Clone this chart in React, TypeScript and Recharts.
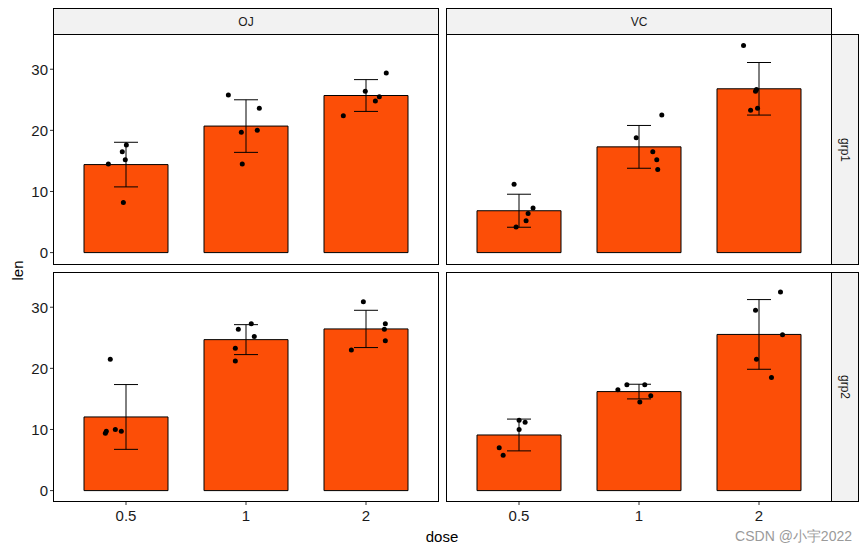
import {ComposedChart, Bar, ErrorBar, Scatter, XAxis, YAxis} from "recharts";

const doses = ["0.5", "1", "2"];
const supps = ["OJ", "VC"];
const groups = ["grp1", "grp2"];

// bar heights (mean) and sd, per panel [supp][grp]
const means = {
  OJ_grp1: [14.4, 20.7, 25.7],
  VC_grp1: [6.85, 17.3, 26.8],
  OJ_grp2: [12.05, 24.7, 26.45],
  VC_grp2: [9.1, 16.2, 25.55],
};
const sds = {
  OJ_grp1: [3.65, 4.3, 2.6],
  VC_grp1: [2.7, 3.5, 4.3],
  OJ_grp2: [5.3, 2.45, 3.05],
  VC_grp2: [2.6, 1.2, 5.7],
};

// jittered points: x in dose-position units (1,2,3), y = len
const pointsX = {
  OJ_grp1: [0.853, 0.969, 1.003, 0.994, 0.978, 1.853, 2.111, 1.961, 2.094, 1.969, 3.169, 2.994, 3.111, 3.078, 2.811],
  VC_grp1: [0.959, 1.117, 1.076, 1.059, 0.976, 2.19, 1.977, 2.115, 2.148, 2.156, 2.871, 2.979, 2.971, 2.988, 2.93],
  OJ_grp2: [0.869, 0.828, 0.836, 0.911, 0.961, 1.936, 2.044, 2.069, 1.911, 1.911, 2.978, 3.161, 3.153, 3.161, 2.878],
  VC_grp2: [1.001, 1.051, 1.001, 0.835, 0.868, 1.899, 2.048, 1.824, 2.098, 2.007, 3.179, 2.971, 3.196, 2.979, 3.104],
};
const pointsY = {
  OJ_grp1: [14.5, 16.5, 17.6, 15.2, 8.2, 25.8, 23.6, 19.7, 20.0, 14.5, 29.4, 26.4, 25.5, 24.8, 22.4],
  VC_grp1: [11.2, 7.3, 6.4, 5.2, 4.2, 22.5, 18.8, 16.5, 15.2, 13.6, 33.9, 26.7, 26.4, 23.6, 23.3],
  OJ_grp2: [21.5, 9.4, 9.7, 10.0, 9.7, 26.4, 27.3, 25.2, 23.3, 21.2, 30.9, 27.3, 26.4, 24.5, 23.0],
  VC_grp2: [11.5, 11.2, 10.0, 7.0, 5.8, 17.3, 17.3, 16.5, 15.5, 14.5, 32.5, 29.5, 25.5, 21.5, 18.5],
};

const yTicks = [0, 10, 20, 30];
const FONT = "'Liberation Sans', Arial, sans-serif";
const FILL = "#FC4E07";

const colX = [54, 447];
const colW = [384, 384];
const rowY = [35, 273];
const rowH = 228;

function Dot(props: any) {
  const {cx, cy} = props;
  return <circle cx={cx} cy={cy} r={2.5} fill="#000" />;
}

function Panel({col, row}: {col: number; row: number}) {
  const key = `${supps[col]}_${groups[row]}` as keyof typeof means;
  const bars = doses.map((d, i) => ({x: i + 1, len: means[key][i], sd: sds[key][i]}));
  const pts = pointsX[key].map((x, i) => ({px: x, len: pointsY[key][i]}));
  const showY = col === 0;
  const showX = row === 1;
  const left = showY ? 0 : colX[col];
  const width = showY ? colX[col] + colW[col] : colW[col];
  const height = showX ? rowH + 34 : rowH;
  return (
    <div style={{position: "absolute", left, top: rowY[row]}}>
      <ComposedChart width={width} height={height} data={bars} margin={{top: 0, right: 0, bottom: 0, left: 0}}>
        <XAxis
          xAxisId="bar"
          type="number"
          dataKey="x"
          domain={[0.4, 3.6]}
          ticks={[1, 2, 3]}
          allowDataOverflow
          hide={!showX}
          height={34}
          tickFormatter={(v: number) => doses[v - 1]}
          tickSize={4}
          tickMargin={5}
          axisLine={false}
          tickLine={{stroke: "#333"}}
          tick={{fontSize: 15, fill: "#1a1a1a", fontFamily: FONT}}
        />
        <XAxis xAxisId="pts" type="number" dataKey="px" domain={[0.4, 3.6]} allowDataOverflow hide />
        <YAxis
          type="number"
          domain={[-1.7, 35.6]}
          ticks={yTicks}
          allowDataOverflow
          hide={!showY}
          width={54}
          tickSize={4}
          axisLine={false}
          tickLine={{stroke: "#333"}}
          tick={{fontSize: 15, fill: "#1a1a1a", fontFamily: FONT}}
        />
        <Bar xAxisId="bar" dataKey="len" fill={FILL} stroke="#000" strokeWidth={1} barSize={84} isAnimationActive={false}>
          <ErrorBar dataKey="sd" width={12} stroke="#000" strokeWidth={1} direction="y" />
        </Bar>
        <Scatter xAxisId="pts" data={pts} dataKey="len" shape={<Dot />} isAnimationActive={false} />
      </ComposedChart>
    </div>
  );
}

const box = (left: number, top: number, width: number, height: number, bg = "transparent") => ({
  position: "absolute" as const,
  left,
  top,
  width,
  height,
  boxSizing: "border-box" as const,
  border: "1px solid #000",
  background: bg,
  pointerEvents: "none" as const,
});

export default function App() {
  const stripText = {fontFamily: FONT, fontSize: 12, color: "#1a1a1a"};
  return (
    <div style={{position: "absolute", left: 0, top: 0, width: 866, height: 553, background: "#fff", fontFamily: FONT}}>
      {[0, 1].map((r) => [0, 1].map((c) => <Panel key={`${c}${r}`} col={c} row={r} />))}
      {/* panel borders */}
      <div style={box(53, 34, 386, 231)} />
      <div style={box(446, 34, 386, 231)} />
      <div style={box(53, 272, 386, 230)} />
      <div style={box(446, 272, 386, 230)} />
      {/* top strips */}
      {supps.map((s, i) => (
        <div key={s} style={{...box(i === 0 ? 53 : 446, 8, 386, 27, "#f2f2f2"), display: "flex", alignItems: "center", justifyContent: "center"}}>
          <span style={stripText}>{s}</span>
        </div>
      ))}
      {/* right strips */}
      {groups.map((g, i) => (
        <div key={g} style={{...box(831, i === 0 ? 34 : 272, 28, i === 0 ? 231 : 230, "#f2f2f2"), display: "flex", alignItems: "center", justifyContent: "center"}}>
          <span style={{...stripText, transform: "rotate(90deg)", display: "inline-block"}}>{g}</span>
        </div>
      ))}
      <div style={{position: "absolute", left: 2, top: 258, width: 30, height: 24, display: "flex", alignItems: "center", justifyContent: "center"}}>
        <span style={{fontSize: 15, color: "#000", transform: "rotate(-90deg)", display: "inline-block"}}>len</span>
      </div>
      <div style={{position: "absolute", left: 400, top: 528, width: 84, textAlign: "center", fontSize: 15, color: "#000"}}>dose</div>
      <div style={{position: "absolute", left: 720, top: 528, width: 132, textAlign: "right", fontSize: 14, color: "#9a9a9a"}}>CSDN @小宇2022</div>
    </div>
  );
}
